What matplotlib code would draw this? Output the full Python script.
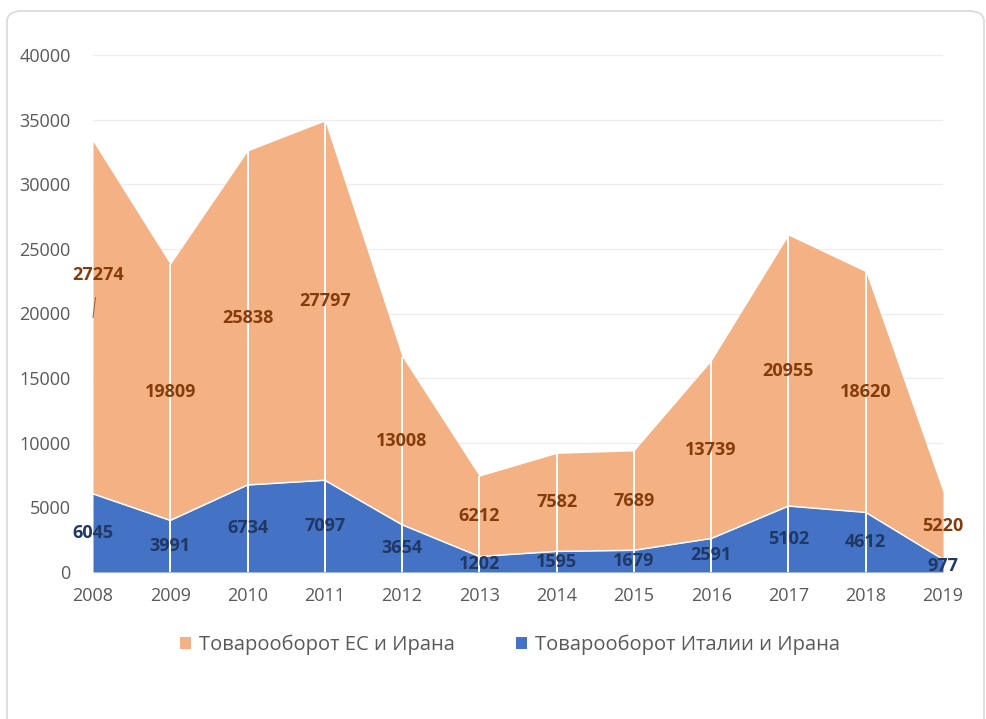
import numpy as np
import matplotlib.pyplot as plt
from matplotlib.patches import FancyBboxPatch

years = [2008, 2009, 2010, 2011, 2012, 2013, 2014, 2015, 2016, 2017, 2018, 2019]
italy_iran = [6045, 3991, 6734, 7097, 3654, 1202, 1595, 1679, 2591, 5102, 4612, 977]
eu_iran = [27274, 19809, 25838, 27797, 13008, 6212, 7582, 7689, 13739, 20955, 18620, 5220]
labels = ["Товарооборот ЕС и Ирана", "Товарооборот Италии и Ирана"]

orange = "#F4B183"
blue = "#4472C4"
grey = "#595959"

plt.rcParams['font.family'] = ['Open Sans', 'DejaVu Sans']

fig = plt.figure(figsize=(9.87, 7.19), dpi=100)
ax = fig.add_axes([93 / 987, 147 / 719, 850 / 987, 517 / 719])

x = np.array(years)
it = np.array(italy_iran)
eu = np.array(eu_iran)
total = it + eu

ax.fill_between(x, it, total, color=orange, lw=0, label=labels[0], zorder=2)
ax.fill_between(x, 0, it, color=blue, lw=0, label=labels[1], zorder=2)
ax.plot(x, it, color="white", lw=1.1, zorder=3)
ax.vlines(x[1:-1], 0, total[1:-1], color="white", lw=1.4, zorder=3)

ax.set_xlim(2008, 2019)
ax.set_ylim(0, 40000)
ax.set_yticks(np.arange(0, 40001, 5000))
ax.set_xticks(x)
ax.grid(axis="y", color="#EDEDED", lw=0.9, zorder=0)
ax.set_axisbelow(True)
for s in ax.spines.values():
    s.set_visible(False)
ax.tick_params(length=0, labelsize=13, colors=grey)
ax.tick_params(axis="y", pad=16)
ax.tick_params(axis="x", pad=11)

for i, yr in enumerate(years):
    ax.text(yr, it[i] / 2, str(it[i]), ha="center", va="center", fontsize=13,
            fontweight="bold", color="#203864", zorder=5, clip_on=False)
    ymid = it[i] + eu[i] / 2
    if i == 0:
        ax.annotate(str(eu[i]), xy=(yr, ymid), xytext=(yr + 0.07, 23000),
                    ha="center", va="center", fontsize=13, fontweight="bold",
                    color="#843C0C", zorder=5,
                    arrowprops=dict(arrowstyle="-", color="#9E6A48", lw=0.8,
                                    shrinkA=8, shrinkB=0))
    else:
        ax.text(yr, ymid, str(eu[i]), ha="center", va="center", fontsize=13,
                fontweight="bold", color="#843C0C", zorder=5, clip_on=False)

ax.legend(loc="center", bbox_to_anchor=(510 / 987, 74 / 719),
          bbox_transform=fig.transFigure, ncol=2, frameon=False,
          fontsize=14.5, labelcolor=grey, handlelength=0.55, handleheight=0.55,
          handletextpad=0.4, columnspacing=3.0)

border = FancyBboxPatch((7 / 987, -0.05), 977 / 987, 0.035 + 708 / 719 + 0.015,
                        boxstyle="round,pad=0,rounding_size=0.015",
                        transform=fig.transFigure, fill=False,
                        edgecolor="#D9D9D9", lw=1.2)
fig.patches.append(border)

fig.savefig("out.png", dpi=100)
